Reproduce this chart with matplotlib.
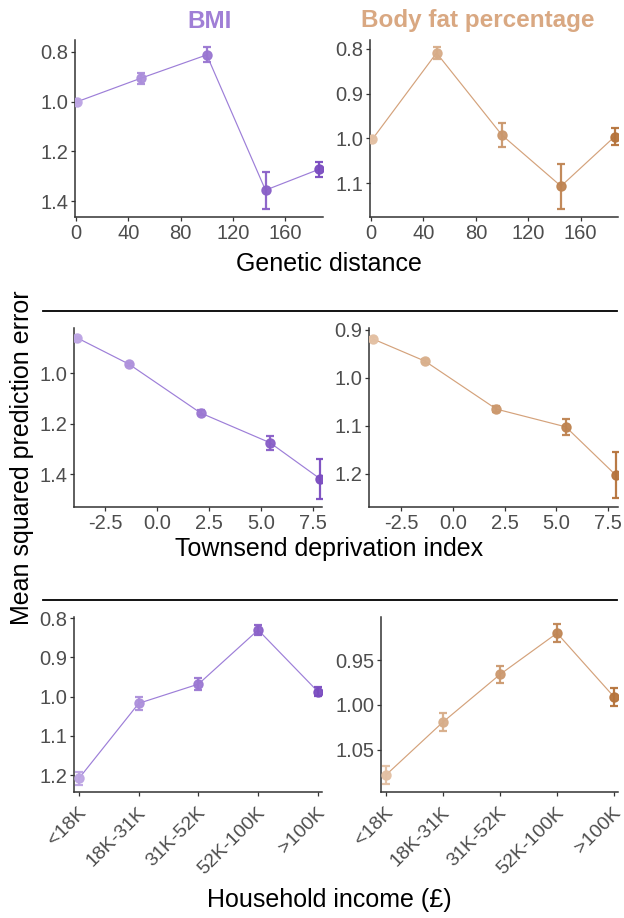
import numpy as np
import matplotlib
matplotlib.use("Agg")
import matplotlib.pyplot as plt
from matplotlib.colors import LinearSegmentedColormap
from matplotlib.lines import Line2D
from matplotlib.transforms import ScaledTranslation

plt.rcParams['font.family'] = ['Liberation Sans', 'DejaVu Sans']

# ---- data ----
gen_dist = [1, 50, 100, 145, 186]
bmi_gen = [1.000, 0.905, 0.812, 1.356, 1.272]
bmi_gen_err = [0.005, 0.022, 0.030, 0.075, 0.030]
bf_gen = [1.002, 0.809, 0.993, 1.107, 0.996]
bf_gen_err = [0.004, 0.013, 0.027, 0.050, 0.020]

tdi = [-3.85, -1.35, 2.1, 5.45, 7.85]
bmi_tdi = [0.861, 0.965, 1.158, 1.276, 1.418]
bmi_tdi_err = [0.004, 0.006, 0.010, 0.028, 0.079]
bf_tdi = [0.919, 0.965, 1.065, 1.102, 1.202]
bf_tdi_err = [0.004, 0.004, 0.007, 0.016, 0.048]

income_labels = ['<18K', '18K-31K', '31K-52K', '52K-100K', '>100K']
bmi_inc = [1.208, 1.017, 0.968, 0.830, 0.987]
bmi_inc_err = [0.016, 0.016, 0.015, 0.013, 0.012]
bf_inc = [1.078, 1.019, 0.966, 0.920, 0.991]
bf_inc_err = [0.010, 0.010, 0.009, 0.010, 0.010]

bmi_cmap = LinearSegmentedColormap.from_list('bmi', ['#bda5e4', '#7a4cc0'])
bf_cmap = LinearSegmentedColormap.from_list('bf', ['#e3c0a3', '#b5733b'])
bmi_line = '#9d7ed8'
bf_line = '#d4a27b'
tick_col = '#4d4d4d'

W, H = 624, 918
fig = plt.figure(figsize=(W / 100, H / 100), dpi=100)


def px_axes(x0, y0, x1, y1):
    return fig.add_axes([x0 / W, 1 - y1 / H, (x1 - x0) / W, (y1 - y0) / H])


def panel(ax, x, y, err, cmap, lcol, xlim, ylim, yticks, yfmt, xticks=None, xlabels=None):
    x = np.asarray(x, dtype=float)
    ax.plot(x, y, color=lcol, lw=0.85, zorder=2)
    t = (x - x.min()) / (x.max() - x.min())
    for xi, yi, ei, ti in zip(x, y, err, t):
        c = cmap(ti)
        ax.errorbar(xi, yi, yerr=ei, fmt='o', color=c, ms=6.5, elinewidth=1.6,
                    capsize=3, capthick=1.6, alpha=0.95, zorder=3, mec=c)
    ax.set_xlim(*xlim)
    ax.set_ylim(*ylim)
    ax.set_yticks(yticks)
    ax.set_yticklabels([yfmt.format(v) for v in yticks])
    if xticks is not None:
        ax.set_xticks(xticks)
    for s in ['top', 'right']:
        ax.spines[s].set_visible(False)
    for s in ['left', 'bottom']:
        ax.spines[s].set_color('#333333')
        ax.spines[s].set_linewidth(1.1)
    ax.tick_params(colors='#333333', labelcolor=tick_col, labelsize=14.5,
                   length=3, width=0.9, pad=2)
    if xlabels is not None:
        ax.set_xticklabels(xlabels, rotation=45, ha='right', va='top',
                           rotation_mode='anchor', fontsize=14)
        shift = ScaledTranslation(-2 / 100, -5 / 100, fig.dpi_scale_trans)
        for lab in ax.get_xticklabels():
            lab.set_transform(lab.get_transform() + shift)
    ax.set_facecolor('none')


# row 1: genetic distance
ax = px_axes(75, 40, 323, 217)
panel(ax, gen_dist, bmi_gen, bmi_gen_err, bmi_cmap, bmi_line,
      (-0.8, 189), (1.464, 0.752), [0.8, 1.0, 1.2, 1.4], '{:.1f}',
      xticks=[0, 40, 80, 120, 160])
ax = px_axes(370, 40, 618, 217)
panel(ax, gen_dist, bf_gen, bf_gen_err, bf_cmap, bf_line,
      (-0.8, 188.5), (1.176, 0.78), [0.8, 0.9, 1.0, 1.1], '{:.1f}',
      xticks=[0, 40, 80, 120, 160])

# row 2: Townsend deprivation index
ax = px_axes(74, 328, 322, 507)
panel(ax, tdi, bmi_tdi, bmi_tdi_err, bmi_cmap, bmi_line,
      (-4.0, 7.95), (1.53, 0.822), [1.0, 1.2, 1.4], '{:.1f}',
      xticks=[-2.5, 0.0, 2.5, 5.0, 7.5])
ax.set_xticklabels(['-2.5', '0.0', '2.5', '5.0', '7.5'])
ax = px_axes(369, 328, 618, 507)
panel(ax, tdi, bf_tdi, bf_tdi_err, bf_cmap, bf_line,
      (-4.05, 7.97), (1.269, 0.896), [0.9, 1.0, 1.1, 1.2], '{:.1f}',
      xticks=[-2.5, 0.0, 2.5, 5.0, 7.5])
ax.set_xticklabels(['-2.5', '0.0', '2.5', '5.0', '7.5'])

# row 3: household income
xi = np.arange(len(income_labels))
ax = px_axes(74, 617, 322, 792)
panel(ax, xi, bmi_inc, bmi_inc_err, bmi_cmap, bmi_line,
      (-0.085, 4.07), (1.243, 0.797), [0.8, 0.9, 1.0, 1.1, 1.2], '{:.1f}',
      xticks=xi, xlabels=income_labels)
ax = px_axes(381, 617, 618, 792)
panel(ax, xi, bf_inc, bf_inc_err, bf_cmap, bf_line,
      (-0.088, 4.07), (1.097, 0.902), [0.95, 1.00, 1.05], '{:.2f}',
      xticks=xi, xlabels=income_labels)

# titles and labels
fig.text(210 / W, 1 - 21 / H, 'BMI', ha='center', va='center',
         fontsize=17.5, fontweight='bold', color='#a07fd6')
fig.text(478 / W, 1 - 21 / H, 'Body fat percentage', ha='center', va='center',
         fontsize=17.5, fontweight='bold', color='#d9a882')
fig.text(329 / W, 1 - 264 / H, 'Genetic distance', ha='center', va='center', fontsize=18)
fig.text(329 / W, 1 - 549 / H, 'Townsend deprivation index', ha='center', va='center', fontsize=18)
fig.text(329 / W, 1 - 900 / H, 'Household income (£)', ha='center', va='center', fontsize=18)
fig.text(22 / W, 1 - 458 / H, 'Mean squared prediction error', ha='center', va='center',
         fontsize=18, rotation=90)

# separators between rows
for yy in [311, 600]:
    fig.add_artist(Line2D([43 / W, 617 / W], [1 - yy / H, 1 - yy / H],
                          color='black', lw=1.3, transform=fig.transFigure))

fig.savefig('out.png', dpi=100)
